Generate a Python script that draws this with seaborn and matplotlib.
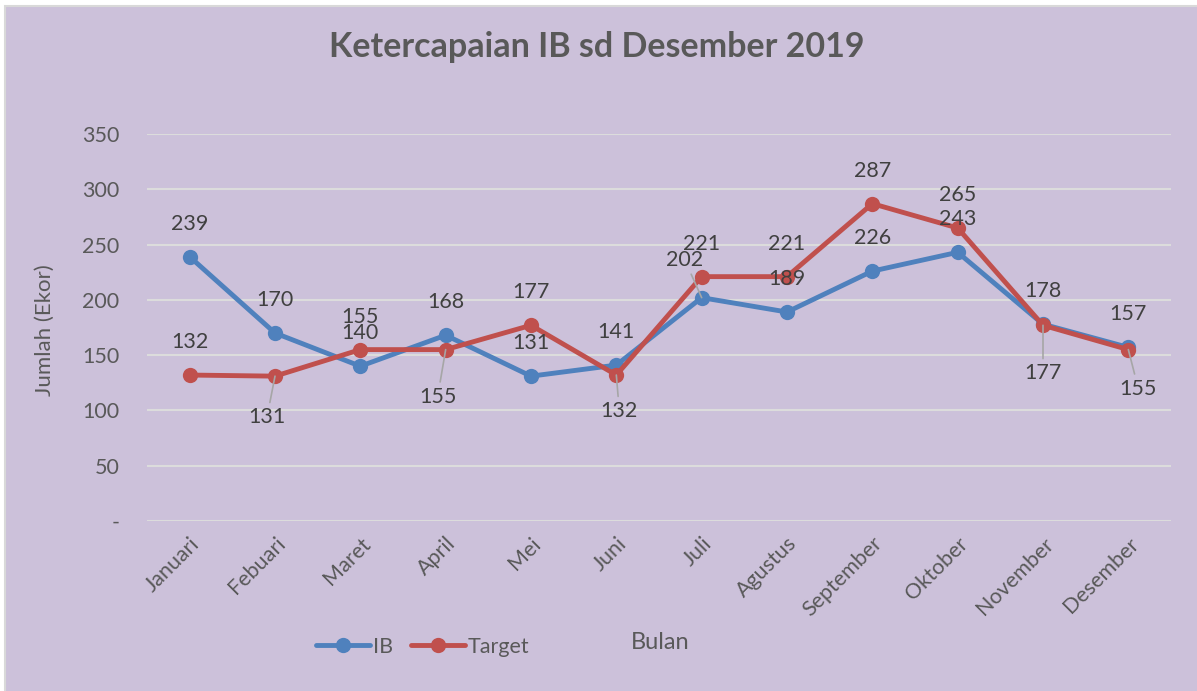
import pandas as pd
import matplotlib.pyplot as plt
import seaborn as sns
from matplotlib.lines import Line2D
from matplotlib.patches import Rectangle

# Data
bulan = ['Januari', 'Febuari', 'Maret', 'April', 'Mei', 'Juni', 'Juli',
         'Agustus', 'September', 'Oktober', 'November', 'Desember']
ib = [239, 170, 140, 168, 131, 141, 202, 189, 226, 243, 178, 157]
target = [132, 131, 155, 155, 177, 132, 221, 221, 287, 265, 177, 155]

# Label placement (pixel offsets from the point) and leader-line flags
ib_offsets = {6: (-17, 38)}
target_offsets = {1: (-8, -41), 3: (-8, -47), 5: (3, -36), 10: (0, -48), 11: (10, -39)}
default_offset = (0, 33)

bg = '#CCC1DA'
colors = {'IB': '#4F81BD', 'Target': '#C0504D'}

df = pd.DataFrame({
    'bulan': bulan * 2,
    'jumlah': ib + target,
    'seri': ['IB'] * len(ib) + ['Target'] * len(target),
})

sns.set_style('white')
plt.rcParams['font.family'] = ['Lato', 'DejaVu Sans']

fig = plt.figure(figsize=(11.97, 6.91), dpi=100, facecolor='white')
fig.patches.append(Rectangle((5 / 1197, -0.01), 1.02, 1.01 - 6 / 691,
                             transform=fig.transFigure, facecolor=bg,
                             edgecolor='#D9D9D9', linewidth=1.5, zorder=-10))
ax = fig.add_axes([147 / 1197, 1 - 521 / 691, 1024 / 1197, 387 / 691])
ax.set_facecolor(bg)
ax.patch.set_alpha(0)

sns.lineplot(data=df, x='bulan', y='jumlah', hue='seri', palette=colors,
             marker='o', markersize=11, markeredgewidth=0, linewidth=3.5,
             legend=False, ax=ax, sort=False)

ax.set_xlim(-0.5, len(bulan) - 0.5)
ax.set_ylim(0, 350)
ax.set_yticks(range(0, 351, 50))
ax.set_yticklabels(['-'] + [str(v) for v in range(50, 351, 50)])
ax.yaxis.grid(True, color='#DCDCDC', linewidth=1.5)
ax.set_axisbelow(True)
for s in ax.spines.values():
    s.set_visible(False)
ax.tick_params(axis='y', length=0, pad=20, labelsize=15.5, labelcolor='#595959')
ax.tick_params(axis='x', length=0, pad=9, labelsize=15.5, labelcolor='#595959')
ax.set_xticks(range(len(bulan)))
ax.set_xticklabels(bulan, rotation=45, ha='right', rotation_mode='anchor')


def label_series(values, offsets):
    for i, v in enumerate(values):
        dx, dy = offsets.get(i, default_offset)
        leader = i in offsets
        ax.annotate(str(v), xy=(i, v), xytext=(dx, dy), textcoords='offset pixels',
                    ha='center', va='center', fontsize=15.5, color='#404040',
                    arrowprops=dict(arrowstyle='-', color='#A6A6A6', lw=1.2,
                                    shrinkA=1, shrinkB=0) if leader else None)


label_series(ib, ib_offsets)
label_series(target, target_offsets)

ax.set_xlabel('Bulan', fontsize=17, color='#595959')
ax.xaxis.set_label_coords((660 - 147) / 1024, (521 - 632) / 387)
ax.set_ylabel('Jumlah (Ekor)', fontsize=16, color='#595959')
ax.yaxis.set_label_coords((55 - 147) / 1024, (521 - 330) / 387)

fig.text(597 / 1197, 1 - 47 / 691, 'Ketercapaian IB sd Desember 2019',
         ha='center', va='center', fontsize=24.5, fontweight='bold', color='#595959')

handles = [Line2D([], [], color=colors[k], marker='o', markersize=11,
                  markeredgewidth=0, linewidth=3.5, label=k) for k in colors]
fig.legend(handles=handles, loc='center left', ncol=2, frameon=False,
           bbox_to_anchor=(297 / 1197, 1 - 647 / 691), fontsize=15.5,
           labelcolor='#595959', handlelength=2.5, handletextpad=0.15,
           columnspacing=0.8)

plt.savefig('out.png', dpi=100, facecolor=fig.get_facecolor())
